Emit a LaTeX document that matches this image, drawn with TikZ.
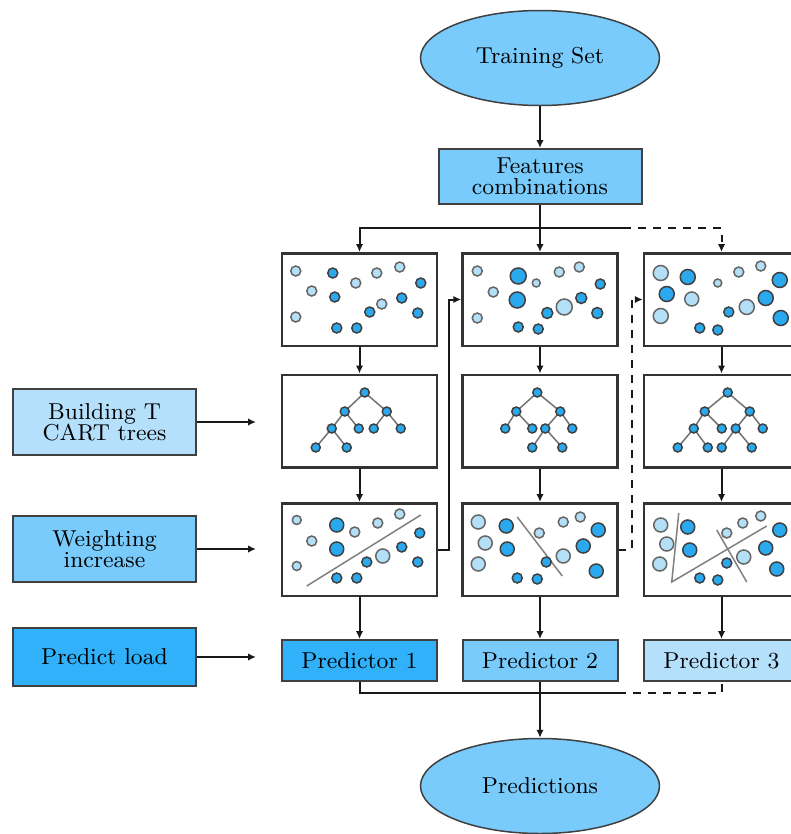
\documentclass[tikz,border=0pt]{standalone}
\usepackage{tikz}
\usetikzlibrary{arrows.meta, shapes.geometric}

\definecolor{skyfill}{HTML}{78CBFB}
\definecolor{palefill}{HTML}{B4E0FC}
\definecolor{deepfill}{HTML}{30B1F9}
\definecolor{dotlight}{HTML}{B3DFF7}
\definecolor{dotdark}{HTML}{2AA9EF}

\begin{document}
\begin{tikzpicture}[x=0.4pt, y=-0.4pt, font=\fontsize{9.2}{8.5}\selectfont,
        arr/.style={-{Latex[length=3.2pt, width=3pt]}, line width=0.8pt, draw=black!90},
        link/.style={line width=0.8pt, draw=black!90},
        box/.style={draw=black!75, line width=0.8pt, inner sep=1pt, text=black, align=center},
        oval/.style={ellipse, draw=black!75, line width=0.6pt, fill=skyfill, text=black, minimum width=95.6pt, minimum height=38pt, inner sep=0pt},
        panel/.style={draw=black!80, line width=1pt, fill=white, minimum width=62pt, minimum height=37pt, inner sep=0pt},
        pbox/.style={box, minimum width=62pt, minimum height=16.4pt},
        side/.style={box, minimum width=73.2pt, minimum height=26.4pt},
        lt/.style={fill=dotlight, draw=black!60, line width=0.6pt},
        dk/.style={fill=dotdark, draw=black!75, line width=0.6pt},
        cut/.style={draw=black!50, line width=0.6pt},
        edge/.style={draw=black!55, line width=0.6pt}]

    \useasboundingbox (0,0) rectangle (791,834);
    \clip (0,0) rectangle (791,834);

    % top and bottom
    \node[oval] (train) at (540,58) {Training Set};
    \node[box, fill=skyfill, minimum width=81.2pt, minimum height=22pt] (feat) at (540,176.5) {Features\\combinations};
    \node[oval] (pred) at (540,786) {Predictions};

    % sample / tree / weighted panels
    \foreach \i/\x in {1/359.5, 2/540, 3/721.5} {
        \node[panel] (s\i) at (\x,299.5) {};
        \node[panel] (t\i) at (\x,421) {};
        \node[panel] (w\i) at (\x,549.5) {};
    }
    \node[pbox, fill=deepfill] (p1) at (359.5,660.5) {Predictor 1};
    \node[pbox, fill=skyfill] (p2) at (540,660.5) {Predictor 2};
    \node[pbox, fill=palefill] (p3) at (721.5,660.5) {Predictor 3};

    % left column
    \node[side, fill=palefill] (build) at (104.5,422) {Building T\\CART trees};
    \node[side, fill=skyfill] (weight) at (104.5,549) {Weighting\\increase};
    \node[side, fill=deepfill, minimum height=23pt] (load) at (104.5,657) {Predict load};
    \coordinate (bend) at (256,422);
    \coordinate (wend) at (256,549);
    \coordinate (lend) at (256,657);
    \draw[arr] (build) -- (bend);
    \draw[arr] (weight) -- (wend);
    \draw[arr] (load) -- (lend);

    % connectors
    \coordinate (split) at (540,228);
    \coordinate (split3) at (623,228);
    \coordinate (merge) at (540,693);
    \coordinate (merge3) at (618,693);
    \draw[arr] (train) -- (feat);
    \draw[link] (feat) -- (split);
    \draw[arr] (split) -| (s1);
    \draw[arr] (split) -- (s2);
    \draw[link] (split) -- (split3);
    \draw[arr, dashed] (split3) -| (s3);
    \foreach \i in {1,2,3} {
        \draw[arr] (s\i) -- (t\i);
        \draw[arr] (t\i) -- (w\i);
        \draw[arr] (w\i) -- (p\i);
    }
    \draw[arr] (w1.east) -- ++(11,0) |- (s2.west);
    \draw[arr, dashed] (w2.east) -- ++(13,0) |- (s3.west);
    \draw[link] (p1) |- (merge) -- (merge3);
    \draw[link, dashed] (merge3) -| (p3);
    \draw[arr] (p2) -- (pred);

    % dots in the sample panels
    \begin{scope}[shift={(s1.north west)}]
        \foreach \x/\y/\r/\c in {15/19/5/lt, 52/21/5/dk, 96/21/5/lt, 119/15/5/lt, 75/31/5/lt, 140/31/5/dk, 31/39/5/lt, 54/45/5/dk, 101/52/5/lt, 121/46/5/dk, 89/60/5/dk, 137/61/5/dk, 15/65/5/lt, 56/76/5/dk, 76/76/5/dk}
            \draw[\c] (\x,\y) circle[radius=\r];
    \end{scope}
    \begin{scope}[shift={(s2.north west)}]
        \foreach \x/\y/\r/\c in {16/19/5/lt, 57/24/8/dk, 98/20/5/lt, 118/15/5/lt, 75/31/4/lt, 139/32/5/dk, 32/40/5/lt, 56/48/8/dk, 103/55/8/lt, 120/46/5.5/dk, 86/61/5.5/dk, 136/61/5.5/dk, 16/66/5/lt, 57/75/5/dk, 77/77/5/dk}
            \draw[\c] (\x,\y) circle[radius=\r];
    \end{scope}
    \begin{scope}[shift={(s3.north west)}]
        \foreach \x/\y/\r/\c in {18/21/7.5/lt, 45/25/7.5/dk, 96/20/5/lt, 118/14/5/lt, 75/31/4/lt, 137/28/7.5/dk, 24/42/7.5/dk, 49/47/7/lt, 104/55/7.5/lt, 123/46/7.5/dk, 86/60/5/dk, 138/66/7.5/dk, 18/64/7.5/lt, 57/76/5/dk, 75/78/5/dk}
            \draw[\c] (\x,\y) circle[radius=\r];
    \end{scope}

    % trees
    \begin{scope}[shift={(t1.north west)}]
        \draw[edge] (84,19) -- (64,38) -- (51,55) -- (35,74) (51,55) -- (66,74) (64,38) -- (78,55)
            (84,19) -- (106,38) -- (93,55) (106,38) -- (120,55);
        \foreach \x/\y in {84/19, 64/38, 106/38, 51/55, 78/55, 93/55, 120/55, 35/74, 66/74}
            \draw[dk] (\x,\y) circle[radius=4.5];
    \end{scope}
    \begin{scope}[shift={(t2.north west)}]
        \draw[edge] (76,19) -- (55,38) -- (44,55) (55,38) -- (71,55)
            (76,19) -- (99,38) -- (84,55) -- (71,74) (84,55) -- (101,74) (99,38) -- (111,55);
        \foreach \x/\y in {76/19, 55/38, 99/38, 44/55, 71/55, 84/55, 111/55, 71/74, 101/74}
            \draw[dk] (\x,\y) circle[radius=4.5];
    \end{scope}
    \begin{scope}[shift={(t3.north west)}]
        \draw[edge] (85,19) -- (62,38) -- (51,55) -- (35,74) (51,55) -- (65,74) (62,38) -- (79,55)
            (85,19) -- (107,38) -- (93,55) -- (79,74) (93,55) -- (109,74) (107,38) -- (120,55);
        \foreach \x/\y in {85/19, 62/38, 107/38, 51/55, 79/55, 93/55, 120/55, 35/74, 65/74, 79/74, 109/74}
            \draw[dk] (\x,\y) circle[radius=4.5];
    \end{scope}

    % weighted panels with split lines
    \begin{scope}[shift={(w1.north west)}]
        \draw[cut] (26,84) -- (140,13);
        \foreach \x/\y/\r/\c in {16/18/4.5/lt, 56/23/7/dk, 74/30/5/lt, 97/21/5/lt, 119/12/5/lt, 139/31/5/dk, 31/39/5/lt, 56/47/7/dk, 102/54/7/lt, 121/45/5/dk, 86/60/5/dk, 137/60/5/dk, 16/64/4.5/lt, 56/76/5/dk, 76/76/5/dk}
            \draw[\c] (\x,\y) circle[radius=\r];
    \end{scope}
    \begin{scope}[shift={(w2.north west)}]
        \draw[cut] (56,15) -- (101,74);
        \foreach \x/\y/\r/\c in {17/20/7/lt, 45/24/7/dk, 78/31/5/lt, 102/20/5/lt, 119/15/5/lt, 137/28/7/dk, 24/41/7/lt, 46/47/7/dk, 102/54/7/lt, 122/44/7/dk, 85/60/5/dk, 135/69/7/dk, 17/62/7/lt, 56/76/5/dk, 76/77/5/dk}
            \draw[\c] (\x,\y) circle[radius=\r];
    \end{scope}
    \begin{scope}[shift={(w3.north west)}]
        \draw[cut] (36,11) -- (29,80) -- (124,24) (74,28) -- (104,80);
        \foreach \x/\y/\r/\c in {18/23/7/lt, 45/25/7/dk, 84/31/5/lt, 100/21/5/lt, 118/14/5/lt, 137/28/7/dk, 24/42/7/lt, 47/48/7/dk, 101/55/7/lt, 123/46/7/dk, 84/61/5/dk, 134/67/7/dk, 17/62/7/lt, 57/76/5/dk, 75/78/5/dk}
            \draw[\c] (\x,\y) circle[radius=\r];
    \end{scope}

\end{tikzpicture}
\end{document}
